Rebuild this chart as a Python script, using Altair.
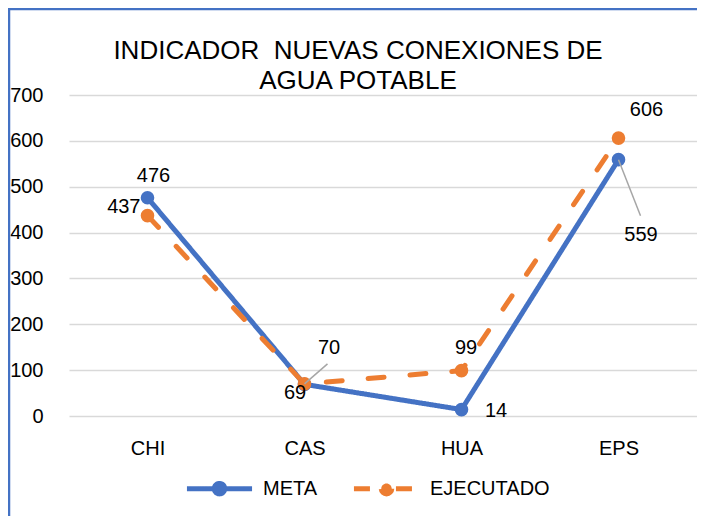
import altair as alt
import pandas as pd

# ---- data ----
categories = ["CHI", "CAS", "HUA", "EPS"]
series_names = ["META", "EJECUTADO"]
meta_values = [476, 69, 14, 559]
ejecutado_values = [437, 70, 99, 606]
y_ticks = [0, 100, 200, 300, 400, 500, 600, 700]
title_lines = ["INDICADOR\u00a0 NUEVAS CONEXIONES DE", "AGUA POTABLE"]
series_colors = ["#4472C4", "#ED7D31"]

rows = []
for s, vals in zip(series_names, [meta_values, ejecutado_values]):
    for c, v in zip(categories, vals):
        rows.append({"cat": c, "serie": s, "valor": v})
df = pd.DataFrame(rows)

FONT = "Liberation Sans"
FS = 20
W, H = 628, 321

x_enc = alt.X(
    "cat:N",
    sort=categories,
    scale=alt.Scale(type="point", padding=0.5),
    axis=alt.Axis(title=None, labelAngle=0, ticks=False, domain=False, grid=False,
                  labelPadding=22, labelFontSize=FS, labelFont=FONT, labelColor="black"),
)
y_enc = alt.Y(
    "valor:Q",
    scale=alt.Scale(domain=[0, 700], nice=False),
    axis=alt.Axis(title=None, values=y_ticks, ticks=False, domain=False, grid=True,
                  gridColor="#D9D9D9", gridWidth=1.5, labelPadding=26,
                  labelFontSize=FS, labelFont=FONT, labelColor="black"),
)

# legend symbol: a line with a dot in its middle
sym_path = ("M-0.93,0L0.93,0"
            "M0.15,0A0.15,0.15,0,1,1,-0.15,0A0.15,0.15,0,1,1,0.15,0Z")
legend = alt.Legend(
    title=None, orient="none", legendX=113, legendY=356, direction="horizontal",
    symbolType=sym_path, symbolSize=4900, symbolStrokeWidth=5,
    labelFontSize=FS, labelFont=FONT, labelColor="black", labelOffset=6,
    columnPadding=25, padding=0,
)
color_scale = alt.Scale(domain=series_names, range=series_colors)

base = alt.Chart(df)

lines = base.mark_line(strokeWidth=5, strokeCap="round", strokeJoin="round").encode(
    x=x_enc, y=y_enc,
    stroke=alt.Stroke("serie:N", scale=color_scale, legend=legend),
    strokeDash=alt.StrokeDash("serie:N", scale=alt.Scale(domain=series_names, range=[[1, 0], [16, 26]]),
                              legend=None),
    order=alt.Order("cat_order:Q"),
).transform_calculate(cat_order="indexof(%s, datum.cat)" % str(categories))

points = base.mark_point(filled=True, size=185, opacity=1, strokeWidth=0).encode(
    x=x_enc, y=y_enc,
    fill=alt.Fill("serie:N", scale=color_scale, legend=legend),
)


def leader(serie, cat, ox, oy):
    return base.mark_rule(color="#A6A6A6", strokeWidth=1.5, x2Offset=ox, y2Offset=oy).encode(
        x=x_enc, y=y_enc, x2="cat:N", y2="valor:Q"
    ).transform_filter((alt.datum.serie == serie) & (alt.datum.cat == cat))


def label(serie, cat, dx, dy, align="center"):
    return base.mark_text(dx=dx, dy=dy, align=align, baseline="middle", fontSize=FS,
                          font=FONT, color="black").encode(
        x=x_enc, y=y_enc, text="valor:Q"
    ).transform_filter((alt.datum.serie == serie) & (alt.datum.cat == cat))


leaders = [
    leader("EJECUTADO", "CAS", 23, -20),
    leader("META", "EPS", 22, 56),
]
labels = [
    label("META", "CHI", 6, -22),
    label("EJECUTADO", "CHI", -7, -9, "right"),
    label("META", "CAS", -9.5, 9),
    label("EJECUTADO", "CAS", 24.5, -36),
    label("EJECUTADO", "HUA", 4.5, -23),
    label("META", "HUA", 34.5, 1),
    label("EJECUTADO", "EPS", 28, -28),
    label("META", "EPS", 22.5, 75.5),
]

frame_df = pd.DataFrame({"k": [0]})
border_left = alt.Chart(frame_df).mark_rule(color="#4472C4", strokeWidth=2.5).encode(
    x=alt.value(-60), y=alt.value(-87), y2=alt.value(H + 100)
)
border_top = alt.Chart(frame_df).mark_rule(color="#4472C4", strokeWidth=2.5).encode(
    x=alt.value(-61), x2=alt.value(W), y=alt.value(-86)
)

chart = alt.layer(
    lines, points, *leaders, *labels, border_left, border_top
).properties(
    width=W, height=H,
    title=alt.TitleParams(text=title_lines, fontSize=26, font=FONT, fontWeight="normal",
                          color="black", anchor="middle", dx=-25, lineHeight=30, offset=-87),
    padding={"left": 61, "top": 87, "right": 0, "bottom": 100},
    autosize=alt.AutoSizeParams(type="none"),
).configure_view(stroke=None)

chart.save("out.html", embed_options={"renderer": "svg", "actions": False})
